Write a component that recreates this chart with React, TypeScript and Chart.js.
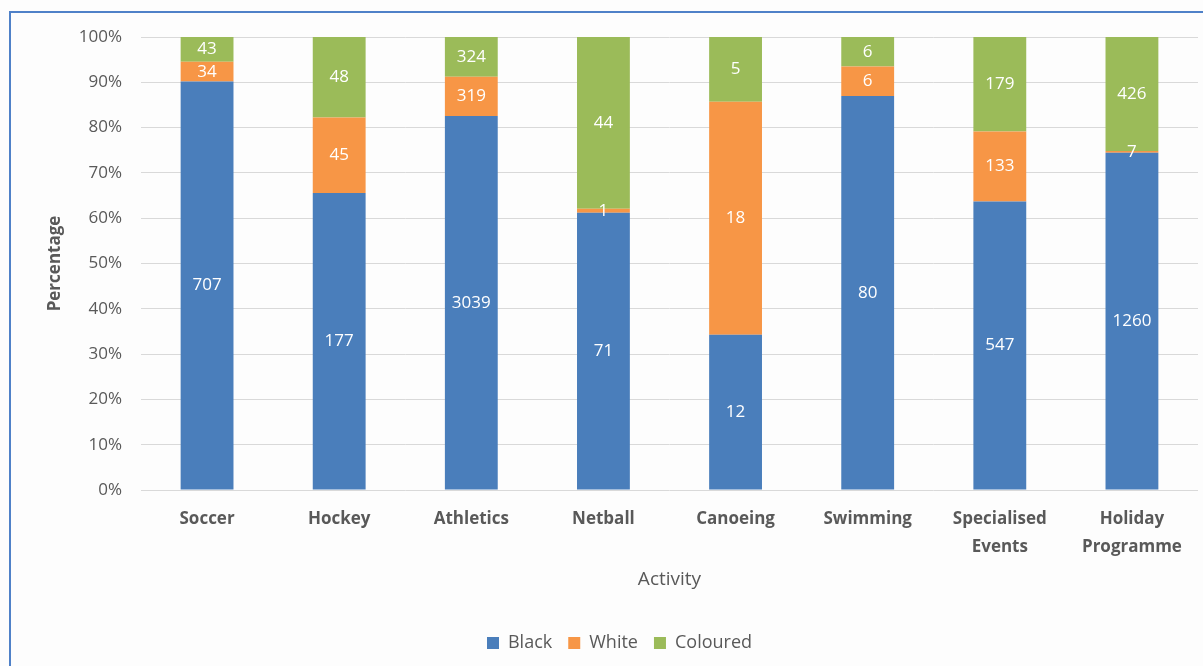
import React, { useEffect, useRef } from "react";
import { Chart, registerables } from "chart.js";

Chart.register(...registerables);

const categories: (string | string[])[] = [
  "Soccer",
  "Hockey",
  "Athletics",
  "Netball",
  "Canoeing",
  "Swimming",
  ["Specialised", "Events"],
  ["Holiday", "Programme"],
];
const blackCounts = [707, 177, 3039, 71, 12, 80, 547, 1260];
const whiteCounts = [34, 45, 319, 1, 18, 6, 133, 7];
const colouredCounts = [43, 48, 324, 44, 5, 6, 179, 426];
const seriesNames = ["Black", "White", "Coloured"];
const yTicks = [0, 10, 20, 30, 40, 50, 60, 70, 80, 90, 100];

const FONT = "'Open Sans', Lato, sans-serif";
const GREY = "#595959";

const totals = categories.map((_, i) => blackCounts[i] + whiteCounts[i] + colouredCounts[i]);
const pct = (arr: number[]) => arr.map((v, i) => (v / totals[i]) * 100);

const labelPlugin = {
  id: "countLabels",
  afterDatasetsDraw(chart: any) {
    const ctx = chart.ctx;
    ctx.save();
    ctx.fillStyle = "#ffffff";
    ctx.font = `17px ${FONT}`;
    ctx.textAlign = "center";
    ctx.textBaseline = "middle";
    chart.data.datasets.forEach((ds: any, di: number) => {
      const meta = chart.getDatasetMeta(di);
      meta.data.forEach((el: any, i: number) => {
        const y = (el.y + el.base) / 2;
        ctx.fillText(String(ds.counts[i]), el.x, y);
      });
    });
    ctx.restore();
  },
};

export default function App() {
  const ref = useRef<HTMLCanvasElement>(null);
  useEffect(() => {
    if (!ref.current) return;
    const chart = new Chart(ref.current, {
      type: "bar",
      data: {
        labels: categories as any,
        datasets: [
          { label: seriesNames[0], data: pct(blackCounts), backgroundColor: "#4a7ebb", counts: blackCounts } as any,
          { label: seriesNames[1], data: pct(whiteCounts), backgroundColor: "#f79646", counts: whiteCounts } as any,
          { label: seriesNames[2], data: pct(colouredCounts), backgroundColor: "#9bbb59", counts: colouredCounts } as any,
        ],
      },
      options: {
        responsive: false,
        animation: false,
        layout: { padding: { left: 41, top: 37, right: 5, bottom: 4 } },
        datasets: { bar: { categoryPercentage: 1, barPercentage: 0.4 } },
        plugins: {
          tooltip: { enabled: false },
          legend: {
            position: "bottom",
            labels: {
              color: GREY,
              font: { family: FONT, size: 18 },
              boxWidth: 12,
              boxHeight: 12,
              padding: 16,
            },
          },
        },
        scales: {
          x: {
            stacked: true,
            grid: { display: false, drawTicks: false },
            border: { display: false },
            ticks: {
              color: GREY,
              padding: 16,
              maxRotation: 0,
              autoSkip: false,
              font: { family: FONT, size: 17, weight: "bold", lineHeight: 1.6 },
            },
            title: {
              display: true,
              text: "Activity",
              color: GREY,
              font: { family: FONT, size: 19 },
              padding: { top: 4, bottom: 27 },
            },
            afterFit(scale: any) {
              scale.height = 128;
            },
          },
          y: {
            stacked: true,
            min: 0,
            max: 100,
            afterBuildTicks(scale: any) {
              scale.ticks = yTicks.map((v) => ({ value: v }));
            },
            grid: { color: "#d9d9d9", drawTicks: false },
            border: { display: false },
            ticks: {
              color: GREY,
              padding: 19,
              font: { family: FONT, size: 17 },
              callback: (v: any) => `${v}%`,
            },
            title: {
              display: true,
              text: "Percentage",
              color: GREY,
              font: { family: FONT, size: 17, weight: "bold" },
            },
            afterFit(scale: any) {
              scale.width = 100;
            },
          },
        },
      },
      plugins: [labelPlugin],
    });
    return () => chart.destroy();
  }, []);

  return (
    <div
      style={{
        position: "fixed",
        left: 0,
        top: 0,
        width: 1203,
        height: 666,
        overflow: "hidden",
        background: "#fdfdfd",
      }}
    >
      <canvas ref={ref} width={1203} height={666} style={{ position: "absolute", left: 0, top: 0 }} />
      <div
        style={{
          position: "absolute",
          left: 9,
          top: 11,
          width: 1400,
          height: 900,
          borderLeft: "2px solid #4f81c8",
          borderTop: "2px solid #4f81c8",
          pointerEvents: "none",
        }}
      />
    </div>
  );
}
